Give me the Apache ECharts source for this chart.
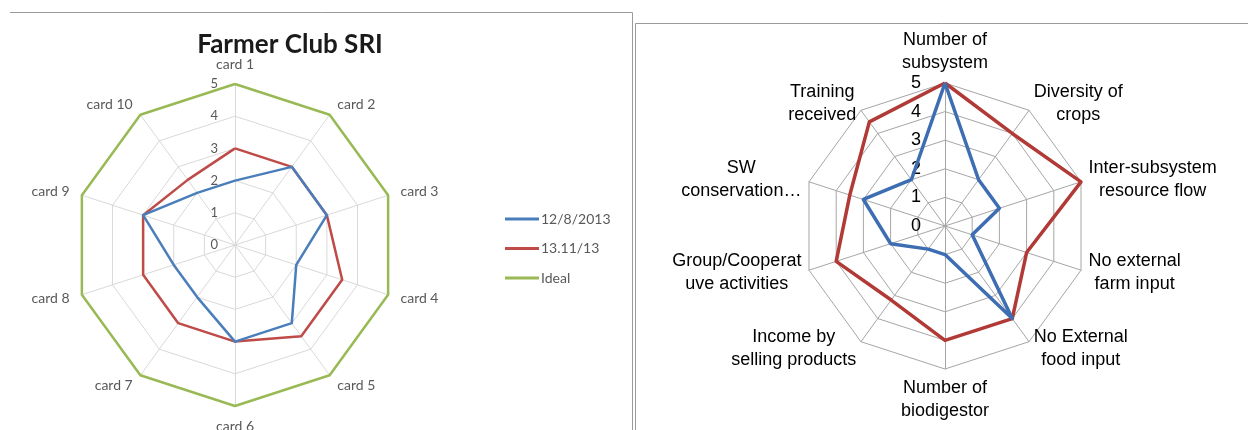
<!DOCTYPE html>
<html>
<head>
<meta charset="utf-8">
<script src="https://cdn.jsdelivr.net/npm/echarts@6/dist/echarts.min.js"></script>
<style>
  html, body { margin: 0; padding: 0; background: #ffffff; }
  #chart { width: 1248px; height: 430px; }
</style>
</head>
<body>
<div id="chart"></div>
<script>
// ---- Farmer Club SRI (left radar) ----
const clubCards = ['card 1', 'card 2', 'card 3', 'card 4', 'card 5',
                   'card 6', 'card 7', 'card 8', 'card 9', 'card 10'];
const clubSeriesNames = ['12/8/2013', '13.11/13', 'Ideal'];
const club20130812 = [2, 3, 3, 2, 3, 3, 2, 2, 3, 2];
const club20131113 = [3, 3, 3, 3.5, 3.5, 3, 3, 3, 3, 2.5];
const clubIdeal    = [5, 5, 5, 5, 5, 5, 5, 5, 5, 5];

// ---- Farm system assessment (right radar) ----
const farmIndicators = [
  'Number of\nsubsystem', 'Diversity of\ncrops', 'Inter-subsystem\nresource flow',
  'No external\nfarm input', 'No External\nfood input', 'Number of\nbiodigestor',
  'Income by\nselling products', 'Group/Cooperat\nuve activities',
  'SW\nconservation…', 'Training\nreceived'
];
const farmBefore = [5, 2, 2, 1, 4, 1, 1, 2, 3, 2];
const farmAfter  = [5, 4, 5, 3, 4, 4, 3.2, 4, 3.5, 4.5];

const scaleMin = 0;
const scaleMax = 5;

// ECharts lays radar indicators out counter-clockwise; reorder so they run clockwise from the top.
function clockwise(arr) {
  return [arr[0]].concat(arr.slice(1).reverse());
}

function indicatorsFor(names, labelStyle) {
  return clockwise(names).map((n, i) => {
    const ind = { name: n, min: scaleMin, max: scaleMax };
    if (i === 0) ind.axisLabel = Object.assign({ show: true }, labelStyle);
    return ind;
  });
}

// centre every line of a multi-line axis name inside its block
function centredLines(name) {
  return name.split('\n').map(line => '{c|' + line + '}').join('\n');
}

const clubFont = 'Lato, "Open Sans", sans-serif';
const farmFont = '"Liberation Sans", Arial, sans-serif';

const clubColors = ['#4a7ebb', '#be4b48', '#98b954'];
const farmColors = ['#3d6db2', '#b13a37'];

const clubValues = [club20130812, club20131113, clubIdeal];
const farmValues = [farmBefore, farmAfter];

const chart = echarts.init(document.getElementById('chart'), null, { renderer: 'canvas' });

chart.setOption({
  backgroundColor: '#ffffff',
  animation: false,
  title: {
    text: 'Farmer Club SRI',
    left: 285,
    top: 27,
    textAlign: 'center',
    textStyle: { fontFamily: clubFont, fontWeight: 'bold', fontSize: 26, color: '#1a1a1a' }
  },
  legend: {
    orient: 'vertical',
    left: 500,
    top: 207,
    icon: 'rect',
    itemWidth: 34,
    itemHeight: 3,
    itemGap: 15.5,
    data: clubSeriesNames,
    textStyle: { fontFamily: clubFont, fontSize: 14, color: '#595959', padding: [0, 0, 0, -3] }
  },
  radar: [
    {
      center: [235, 245],
      radius: 161,
      startAngle: 90,
      shape: 'polygon',
      splitNumber: 5,
      indicator: indicatorsFor(clubCards, {
        color: '#595959', fontSize: 13, fontFamily: clubFont, margin: 17
      }),
      axisName: { color: '#595959', fontSize: 14, fontFamily: clubFont },
      nameGap: 13,
      axisLabel: { show: false },
      axisLine: { lineStyle: { color: '#d9d9d9', width: 1 } },
      splitLine: { lineStyle: { color: '#d9d9d9', width: 1 } },
      splitArea: { show: false }
    },
    {
      center: [945, 226],
      radius: 143,
      startAngle: 90,
      shape: 'polygon',
      splitNumber: 5,
      indicator: indicatorsFor(farmIndicators, {
        color: '#000000', fontSize: 18, fontFamily: farmFont, margin: 24
      }),
      axisName: {
        color: '#000000', fontSize: 18, fontFamily: farmFont, lineHeight: 23,
        formatter: centredLines,
        rich: { c: { align: 'center', color: '#000000', fontSize: 18, fontFamily: farmFont, lineHeight: 23 } }
      },
      nameGap: 8,
      axisLabel: { show: false },
      axisLine: { lineStyle: { color: '#a6a6a6', width: 1 } },
      splitLine: { lineStyle: { color: '#a6a6a6', width: 1 } },
      splitArea: { show: false }
    }
  ],
  series: [
    {
      type: 'radar',
      radarIndex: 0,
      symbol: 'none',
      data: clubSeriesNames.map((name, i) => ({
        name: name,
        value: clockwise(clubValues[i]),
        lineStyle: { color: clubColors[i], width: 2.5 },
        itemStyle: { color: clubColors[i] }
      })).reverse()
    },
    {
      type: 'radar',
      radarIndex: 1,
      symbol: 'none',
      data: farmValues.map((vals, i) => ({
        name: 'farm-' + i,
        value: clockwise(vals),
        lineStyle: { color: farmColors[i], width: 3.5 },
        itemStyle: { color: farmColors[i] }
      })).reverse()
    }
  ],
  graphic: [
    // panel frames
    { type: 'polyline', shape: { points: [[10, 12.5], [632.5, 12.5], [632.5, 430]] },
      style: { stroke: '#9a9a9a', lineWidth: 1, fill: null }, silent: true },
    { type: 'polyline', shape: { points: [[635.5, 430], [635.5, 23.5], [1248, 23.5]] },
      style: { stroke: '#9a9a9a', lineWidth: 1, fill: null }, silent: true }
  ]
});
</script>
</body>
</html>
